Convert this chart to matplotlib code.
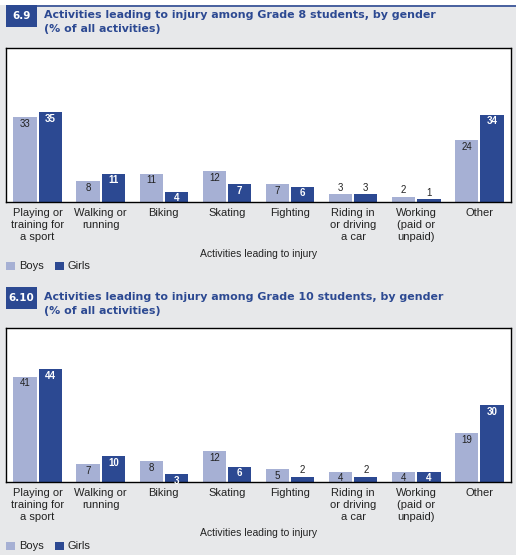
import matplotlib.pyplot as plt
from matplotlib.patches import Rectangle
import numpy as np

W, H = 516, 555
BG = "#e7e8ea"
BOYS_COLOR = "#a6b0d4"
GIRLS_COLOR = "#2c4992"
TEXT = "#222222"

# Data
categories = [
    "Playing or\ntraining for\na sport",
    "Walking or\nrunning",
    "Biking",
    "Skating",
    "Fighting",
    "Riding in\nor driving\na car",
    "Working\n(paid or\nunpaid)",
    "Other",
]
boys_g8 = [33, 8, 11, 12, 7, 3, 2, 24]
girls_g8 = [35, 11, 4, 7, 6, 3, 1, 34]
boys_g10 = [41, 7, 8, 12, 5, 4, 4, 19]
girls_g10 = [44, 10, 3, 6, 2, 2, 4, 30]

panels = [
    ("6.9", "Activities leading to injury among Grade 8 students, by gender\n(% of all activities)",
     boys_g8, girls_g8, 0),
    ("6.10", "Activities leading to injury among Grade 10 students, by gender\n(% of all activities)",
     boys_g10, girls_g10, 280),
]

fig = plt.figure(figsize=(W / 100, H / 100), dpi=100)
fig.patch.set_facecolor(BG)
plt.rcParams["font.family"] = ["Liberation Sans", "DejaVu Sans"]


def px_axes(x0, y0, x1, y1, **kw):
    return fig.add_axes([x0 / W, 1 - y1 / H, (x1 - x0) / W, (y1 - y0) / H], **kw)


def fx(x):
    return x / W


def fy(y):
    return 1 - y / H


# white strip and rule at the very top
fig.add_artist(Rectangle((0, fy(5)), 1, 5 / H, transform=fig.transFigure,
                         facecolor="white", edgecolor="none"))
fig.add_artist(plt.Line2D([fx(37), 1], [fy(5.5), fy(5.5)], transform=fig.transFigure,
                          color=GIRLS_COLOR, lw=1.2))

x = np.arange(len(categories))
bw = 0.37
off = 0.2

for badge, title, boys, girls, dy in panels:
    # badge
    top = 5 + dy + (2 if dy else 0)
    fig.add_artist(Rectangle((fx(6), fy(top + 22)), fx(31), 22 / H, transform=fig.transFigure,
                             facecolor=GIRLS_COLOR, edgecolor="none"))
    fig.text(fx(21.5), fy(top + 11), badge, color="white", fontsize=7.5, fontweight="bold",
             family="DejaVu Sans", ha="center", va="center")
    fig.text(fx(44), fy(top + 5.5), title, color=GIRLS_COLOR, fontsize=7.9, fontweight="bold",
             family="DejaVu Sans", ha="left", va="top", linespacing=1.4)

    ax = px_axes(6, 48 + dy, 511, 202 + dy)
    ax.set_facecolor("white")
    ax.bar(x - off, boys, bw, color=BOYS_COLOR, zorder=2)
    ax.bar(x + off, girls, bw, color=GIRLS_COLOR, zorder=2)
    for xi, b, g in zip(x, boys, girls):
        if b >= 4:
            ax.text(xi - off, b - 2.6, str(b), ha="center", va="center", fontsize=7, color=TEXT)
        else:
            ax.text(xi - off, b + 2.6, str(b), ha="center", va="center", fontsize=7, color=TEXT)
        if g >= 3 and not (g == 3 and b == 3):
            ax.text(xi + off, g - 2.6, str(g), ha="center", va="center", fontsize=7,
                    color="white", fontweight="bold")
        else:
            ax.text(xi + off, g + 2.6, str(g), ha="center", va="center", fontsize=7, color=TEXT)
    ax.set_xlim(-0.5, len(categories) - 0.5)
    ax.set_ylim(0, 60)
    ax.set_yticks([])
    ax.set_xticks(x)
    ax.set_xticklabels(categories, fontsize=8, color=TEXT, linespacing=1.25)
    ax.tick_params(axis="x", length=0, pad=4)
    for s in ax.spines.values():
        s.set_color("black")
        s.set_linewidth(1.0)
    ax.set_xlabel("Activities leading to injury", fontsize=7.5, color=TEXT, labelpad=5)

    # legend
    ly = 266 + dy
    fig.add_artist(Rectangle((fx(6), fy(ly + 4)), fx(9), 8 / H, transform=fig.transFigure,
                             facecolor=BOYS_COLOR, edgecolor="none"))
    fig.text(fx(19), fy(ly), "Boys", fontsize=8, color=TEXT, va="center")
    fig.add_artist(Rectangle((fx(55), fy(ly + 4)), fx(9), 8 / H, transform=fig.transFigure,
                             facecolor=GIRLS_COLOR, edgecolor="none"))
    fig.text(fx(67), fy(ly), "Girls", fontsize=8, color=TEXT, va="center")

fig.savefig("out.png", dpi=100, facecolor=BG)
